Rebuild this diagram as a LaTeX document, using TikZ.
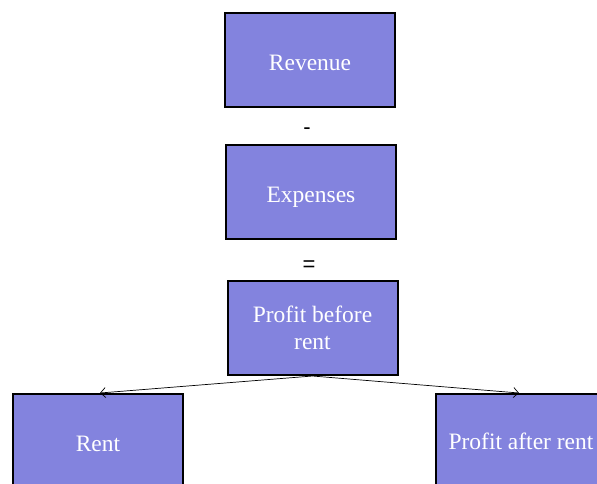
\documentclass[tikz,border=0pt]{standalone}
\usepackage{fontspec}
\setmainfont{Liberation Serif}
\newfontfamily\signfont{Liberation Sans}
\usetikzlibrary{arrows.meta,positioning}
\definecolor{boxfill}{HTML}{8383DE}

\tikzset{
  itembox/.style={draw=black,line width=2pt,fill=boxfill,text=white,
    minimum width=170pt,minimum height=94pt,align=center,
    font=\fontsize{23.5}{27}\selectfont},
  oneline/.style={text height=20pt,text depth=0pt},
  signtext/.style={font=\signfont\fontsize{22}{24}\selectfont},
  splitarrow/.style={-{Straight Barb[length=5pt,width=10pt]},line width=0.7pt}
}

\begin{document}
\begin{tikzpicture}[x=1pt,y=-1pt]
  \useasboundingbox (0,0) rectangle (597,483);

  % Calculation column
  \node[itembox,oneline] (revenue) at (310,60) {Revenue};
  \node[signtext] (minus) at (307,131) {-};
  \node[itembox,oneline] (expenses) at (311,192) {Expenses};
  \node[signtext] (equals) at (309,266) {=};
  \node[itembox] (profit) at (312.5,328) {Profit before\\rent};

  % Split of the profit
  \node[itembox,oneline] (rent) at (98,441) {Rent};
  \node[itembox] (after) at (521,441) {Profit after rent};

  \draw[splitarrow] (profit.south) -- ([xshift=2pt]rent.north);
  \draw[splitarrow] (profit.south) -- ([xshift=-2pt]after.north);
\end{tikzpicture}
\end{document}
